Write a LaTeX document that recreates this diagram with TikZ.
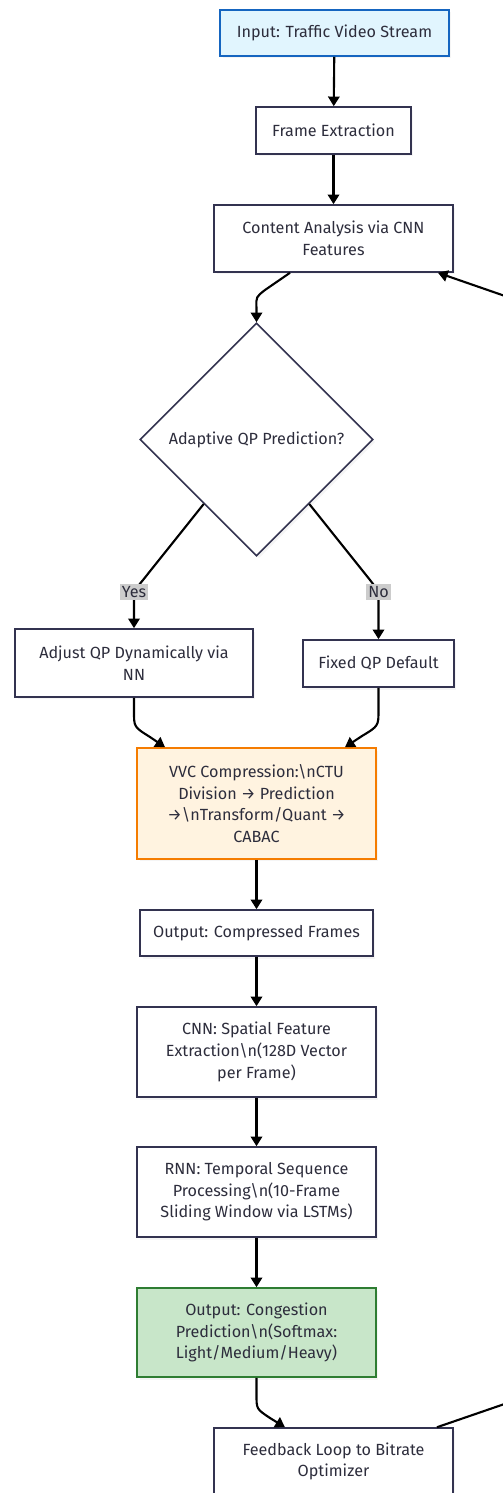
\documentclass[tikz,border=0pt]{standalone}
\usepackage{fontspec}
\setmainfont{Fira Sans}
\usetikzlibrary{arrows.meta,shapes.geometric,shadows,calc}
\definecolor{inkline}{RGB}{51,51,80}
\definecolor{inktext}{RGB}{45,45,60}
\definecolor{inblue}{RGB}{225,245,254}
\definecolor{inblueline}{RGB}{21,101,192}
\definecolor{vvcfill}{RGB}{255,243,224}
\definecolor{vvcline}{RGB}{245,124,0}
\definecolor{congfill}{RGB}{200,230,201}
\definecolor{congline}{RGB}{46,125,50}
\tikzset{
  box/.style={draw=inkline, line width=0.9pt, fill=white, align=center,
    text=inktext, inner sep=0pt, font=\fontsize{9.2}{12.3}\selectfont,
    drop shadow={shadow xshift=0.05cm, shadow yshift=-0.05cm, opacity=0.08}},
  flow/.style={draw=black, line width=1.2pt, -{Triangle[length=5.5pt,width=6.5pt]}},
  tag/.style={fill=gray!40, text=inktext, inner sep=1.2pt, font=\fontsize{9.2}{11}\selectfont}
}
\begin{document}
\begin{tikzpicture}[x=0.02cm,y=-0.02cm]
\useasboundingbox (0,0) rectangle (503,1493);
\clip (0,0) rectangle (503,1493);
% top of the chain
\node[box, fill=inblue, draw=inblueline, minimum width=4.58cm, minimum height=0.92cm] (input) at (334.5,33) {Input: Traffic Video Stream};
\node[box, minimum width=3.1cm, minimum height=0.94cm] (frame) at (333.5,130.5) {Frame Extraction};
\node[box, minimum width=4.78cm, minimum height=1.34cm] (cont) at (333.5,238.5) {Content Analysis via CNN\\Features};
% decision
\node[box, diamond, aspect=1, minimum width=4.66cm, minimum height=4.66cm] (qpdia) at (256.5,439.5) {Adaptive QP Prediction?};
\node[box, minimum width=4.76cm, minimum height=1.36cm] (adjust) at (134,663) {Adjust QP Dynamically via\\NN};
\node[box, minimum width=3.02cm, minimum height=0.94cm] (fixed) at (378.5,663.5) {Fixed QP Default};
% coding and prediction
\node[box, fill=vvcfill, draw=vvcline, minimum width=4.78cm, minimum height=2.22cm] (vvc) at (256.5,803.5) {VVC Compression:\textbackslash nCTU\\Division → Prediction\\→\textbackslash nTransform/Quant →\\CABAC};
\node[box, minimum width=4.66cm, minimum height=0.92cm] (outc) at (256.5,933) {Output: Compressed Frames};
\node[box, minimum width=4.78cm, minimum height=1.8cm] (cnn) at (256.5,1052) {CNN: Spatial Feature\\Extraction\textbackslash n(128D Vector\\per Frame)};
\node[box, minimum width=4.78cm, minimum height=1.8cm] (rnn) at (256.5,1192) {RNN: Temporal Sequence\\Processing\textbackslash n(10-Frame\\Sliding Window via LSTMs)};
\node[box, fill=congfill, draw=congline, minimum width=4.78cm, minimum height=1.78cm] (cong) at (256.5,1332.5) {Output: Congestion\\Prediction\textbackslash n(Softmax:\\Light/Medium/Heavy)};
\node[box, minimum width=4.78cm, minimum height=1.34cm] (feedback) at (333.5,1461.5) {Feedback Loop to Bitrate\\Optimizer};
% edges
\draw[flow] (input) -- (frame);
\draw[flow] (frame) -- (cont);
\draw[flow] ([xshift=-0.87cm]cont.south) -- (265,290) .. controls (256,297) .. (256.5,308) -- (qpdia.north);
\draw[flow] ($(qpdia.west)!0.55!(qpdia.south)$) -- (143,580) .. controls (134,591) .. (134,602) -- (adjust.north);
\draw[flow] ($(qpdia.east)!0.55!(qpdia.south)$) -- (370,580) .. controls (378.5,591) .. (378.5,602) -- (fixed.north);
\node[tag] (yes) at (134,592) {Yes};
\node[tag] (no) at (378.5,592) {No};
\draw[flow] (adjust.south) -- (134,712) .. controls (134,727) .. (150,737) -- ([xshift=-1.83cm]vvc.north);
\draw[flow] (fixed.south) -- (378.5,710) .. controls (378.5,726) .. (362,736) -- ([xshift=1.77cm]vvc.north);
\draw[flow] (vvc) -- (outc);
\draw[flow] (outc) -- (cnn);
\draw[flow] (cnn) -- (rnn);
\draw[flow] (rnn) -- (cong);
\draw[flow] (cong.south) -- (256.5,1395) .. controls (256.5,1409) .. (270,1418) -- ([xshift=-0.97cm]feedback.north);
% loop back, leaves the page on the right
\draw[flow] ([xshift=2.07cm]feedback.north) -- (580,1378) -- (580,322) -- ([xshift=2.09cm]cont.south);
\end{tikzpicture}
\end{document}
